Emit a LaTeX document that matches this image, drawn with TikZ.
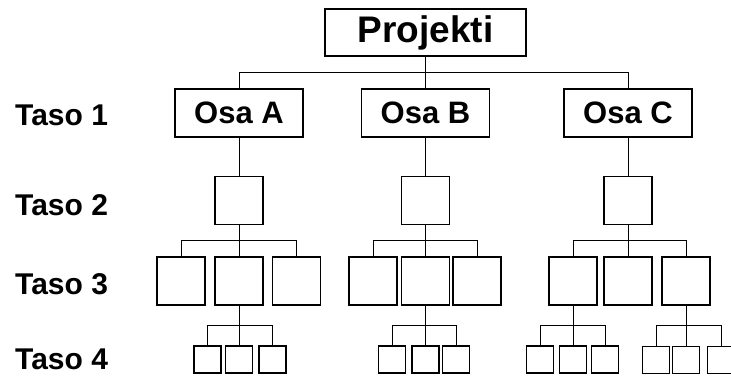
\documentclass[tikz,border=0pt]{standalone}
\usepackage{fontspec}
\setmainfont{Liberation Sans}
\usetikzlibrary{calc}

\begin{document}
\begin{tikzpicture}[x=1pt, y=-1pt,
    box/.style={draw, line width=1.2pt, inner sep=0pt,
                font=\fontsize{31}{31}\selectfont\bfseries},
    part/.style={box, minimum width=128pt, minimum height=48pt},
    mid/.style={box, minimum width=48pt, minimum height=48pt},
    leaf/.style={box, minimum width=27pt, minimum height=27pt},
    level/.style={anchor=base west, inner sep=0pt,
                  font=\fontsize{30}{30}\selectfont\bfseries},
    link/.style={line width=0.8pt}
]
    \useasboundingbox (0,0) rectangle (731,375);

    % levels
    \node[level] (t1) at (15,125) {Taso 1};
    \node[level] (t2) at (15,215) {Taso 2};
    \node[level] (t3) at (15,294) {Taso 3};
    \node[level] (t4) at (15,369.5) {Taso 4};

    % top and parts
    \node[box, minimum width=201pt, minimum height=47pt,
          font=\fontsize{37}{37}\selectfont\bfseries] (proj) at (425.5,32.5) {Projekti};
    \node[part] (osaA) at (239,113) {Osa A};
    \node[part] (osaB) at (425.5,113) {Osa B};
    \node[part] (osaC) at (628,113) {Osa C};

    % level 2
    \node[mid] (a2) at (239,200.5) {};
    \node[mid] (b2) at (425.5,200.5) {};
    \node[mid] (c2) at (628,200.5) {};

    % level 3
    \node[mid] (a31) at (181,281) {};
    \node[mid] (a32) at (239,281) {};
    \node[mid] (a33) at (296.5,281) {};
    \node[mid] (b31) at (373,281) {};
    \node[mid] (b32) at (425.5,281) {};
    \node[mid] (b33) at (477,281) {};
    \node[mid] (c31) at (573,281) {};
    \node[mid] (c32) at (628,281) {};
    \node[mid] (c33) at (686,281) {};

    % level 4
    \node[leaf] (a41) at (207.5,359.5) {};
    \node[leaf] (a42) at (239,359.5) {};
    \node[leaf] (a43) at (272.5,359.5) {};
    \node[leaf] (b41) at (392,359.5) {};
    \node[leaf] (b42) at (425.5,359.5) {};
    \node[leaf] (b43) at (456,359.5) {};
    \node[leaf] (c41) at (540,359.5) {};
    \node[leaf] (c42) at (573,359.5) {};
    \node[leaf] (c43) at (605,359.5) {};
    \node[leaf] (c44) at (656,360) {};
    \node[leaf] (c45) at (686,360) {};
    \node[leaf] (c46) at (721,360) {};

    % connectors
    \coordinate (projbus) at ($(proj.south)!.5!(osaB.north)$);
    \draw[link] (proj.south) -- (projbus);
    \foreach \c in {osaA, osaB, osaC}
        \draw[link] (projbus) -| (\c.north);

    \draw[link] (osaA.south) -- (a2.north);
    \draw[link] (osaB.south) -- (b2.north);
    \draw[link] (osaC.south) -- (c2.north);

    \coordinate (a2bus) at ($(a2.south)!.5!(a32.north)$);
    \draw[link] (a2.south) -- (a2bus);
    \foreach \c in {a31, a32, a33}
        \draw[link] (a2bus) -| (\c.north);

    \coordinate (b2bus) at ($(b2.south)!.5!(b32.north)$);
    \draw[link] (b2.south) -- (b2bus);
    \foreach \c in {b31, b32, b33}
        \draw[link] (b2bus) -| (\c.north);

    \coordinate (c2bus) at ($(c2.south)!.5!(c32.north)$);
    \draw[link] (c2.south) -- (c2bus);
    \foreach \c in {c31, c32, c33}
        \draw[link] (c2bus) -| (\c.north);

    \coordinate (a32bus) at ($(a32.south)!.5!(a42.north)$);
    \draw[link] (a32.south) -- (a32bus);
    \foreach \c in {a41, a42, a43}
        \draw[link] (a32bus) -| (\c.north);

    \coordinate (b32bus) at ($(b32.south)!.5!(b42.north)$);
    \draw[link] (b32.south) -- (b32bus);
    \foreach \c in {b41, b42, b43}
        \draw[link] (b32bus) -| (\c.north);

    \coordinate (c31bus) at ($(c31.south)!.5!(c42.north)$);
    \draw[link] (c31.south) -- (c31bus);
    \foreach \c in {c41, c42, c43}
        \draw[link] (c31bus) -| (\c.north);

    \coordinate (c33bus) at ($(c33.south)!.5!(c45.north)$);
    \draw[link] (c33.south) -- (c33bus);
    \foreach \c in {c44, c45, c46}
        \draw[link] (c33bus) -| (\c.north);
\end{tikzpicture}
\end{document}
